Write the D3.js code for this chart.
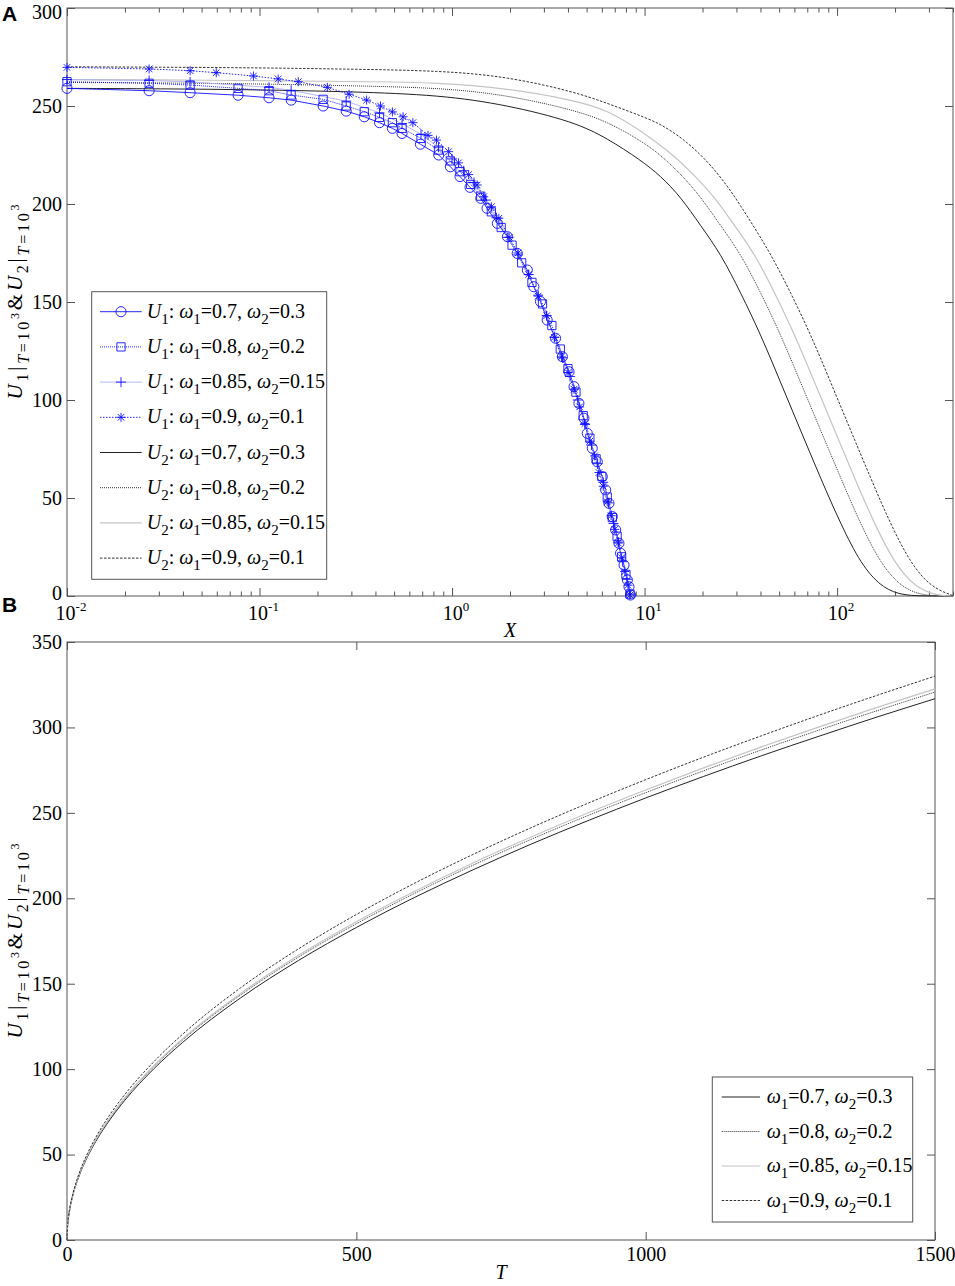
<!DOCTYPE html>
<html><head><meta charset="utf-8">
<script src="https://cdn.jsdelivr.net/npm/d3@7"></script>
<style>
body{margin:0;background:#fff}
svg{display:block}
text{font-family:"Liberation Serif","Times New Roman",serif;fill:#000}
text.panel{font-family:"Liberation Sans",Arial,sans-serif;font-weight:bold}
</style>
</head><body>
<svg id="c" width="955" height="1286"></svg>
<script>
// ---------- DATA ----------
// Panel A: U1 curves  [X, U]
const u1_w07 = [[0.01,259],[0.0267,257.8],[0.0436,256.8],[0.0774,255.5],[0.112,254.2],[0.146,253],[0.214,250],[0.282,247.4],[0.35,244.5],[0.42,241.5],[0.49,238.6],[0.55,236],[0.685,230.5],[0.853,225],[0.98,219],[1.10,214],[1.24,208.5],[1.41,202.9],[1.52,197.8],[1.72,190.1],[1.94,183.3],[2.18,174.8],[2.46,166.3],[2.66,157.8],[2.88,150.2],[3.12,140.8],[3.45,131.5],[3.74,122.1],[4.05,114.4],[4.30,106.8],[4.56,98.3],[4.84,90.7],[5.04,83],[5.35,75.4],[5.68,68.5],[6.03,60.9],[6.28,54.1],[6.53,47.3],[6.80,40.5],[7.08,33.7],[7.36,26.9],[7.50,21.8],[7.82,15.8],[8.14,8.2],[8.30,4.7],[8.45,0.5]];
const u1_w08 = [[0.01,262.4],[0.0267,261.6],[0.0436,260.7],[0.0774,259],[0.112,257.8],[0.146,255.6],[0.214,253.4],[0.282,250],[0.35,247.1],[0.42,244.2],[0.49,241.5],[0.55,238.6],[0.69,233.5],[0.85,227.5],[0.98,222],[1.1,216.5],[1.25,210],[1.41,204],[1.6,196],[1.8,188],[2.05,179],[2.3,170],[2.6,160],[2.95,149],[3.3,138],[3.65,126],[4.0,116],[4.4,104],[4.8,92],[5.2,80.5],[5.6,70],[6.0,61],[6.4,50.5],[6.8,40],[7.2,30.5],[7.6,20],[8.0,11],[8.4,1]];
const u1_w085 = [[0.01,263.5],[0.0267,263],[0.0436,262.3],[0.112,259.5],[0.146,258],[0.282,252.5],[0.42,246.5],[0.55,241],[0.69,235.5],[0.85,229],[1.0,223],[1.15,217],[1.3,211],[1.5,202],[1.7,193],[1.95,183],[2.2,174],[2.5,164],[2.8,153.5],[3.1,143],[3.4,132],[3.75,121.5],[4.1,112],[4.5,100],[4.9,87.5],[5.3,77],[5.7,67.5],[6.1,58],[6.5,47.5],[6.9,37],[7.3,27.5],[7.7,17.5],[8.1,8.5],[8.4,1]];
const u1_w09 = [[0.01,269.7],[0.0267,268.9],[0.0436,268],[0.0596,267],[0.093,265.3],[0.125,263.8],[0.159,262.4],[0.225,259.5],[0.292,256],[0.36,253],[0.425,250],[0.49,247],[0.557,244.5],[0.626,241.5],[0.75,235],[0.83,232.6],[0.96,226.7],[1.08,221],[1.22,215],[1.35,209.7],[1.46,203.7],[1.6,198.6],[1.75,192.7],[1.98,183],[2.2,175],[2.5,164],[2.8,153],[3.1,143],[3.4,132],[3.7,122],[4.0,114],[4.3,105.5],[4.6,96.5],[4.9,88],[5.2,79],[5.5,71.5],[5.8,63],[6.1,56],[6.4,48],[6.7,41],[7.0,34],[7.3,27],[7.6,19.5],[7.9,12.5],[8.2,5.5],[8.4,0.5]];
// Panel A: U2 curves  [X, U]
const u2_w07 = [[0.01,259],[0.03,258.8],[0.1,258.3],[0.3,257.3],[0.87,255.6],[1.935,250.5],[4.29,242],[6.41,233.5],[9.54,222.4],[12.13,214.3],[15.41,203.6],[19.6,188.8],[24.9,174.5],[31.6,154.6],[40.2,133.2],[51,108.7],[64.8,84.2],[82.4,59.7],[105,36.2],[133,16.3],[169,4.6],[214.7,0.5],[272.8,0],[400,0]];
const u2_w08 = [[0.01,262],[0.03,261.8],[0.1,261.3],[0.3,260.3],[0.87,259.3],[1.935,255.6],[4.29,248],[6.41,242],[9.54,232.4],[12.13,225],[15.41,215.3],[19.6,203.6],[24.9,188.8],[31.6,174.5],[40.2,154.6],[51,133.2],[64.8,108.7],[82.4,84.2],[105,59.7],[133,36.2],[169,16.3],[214.7,4.6],[272.8,0.5],[340,0],[400,0]];
const u2_w085 = [[0.01,263.5],[0.03,263.3],[0.1,263],[0.3,262.5],[0.87,262],[1.935,259],[4.29,253],[6.41,248],[9.54,237.5],[14.34,224.5],[18.22,214.3],[23.15,203.6],[29.41,188.8],[37.37,174.5],[47.48,154.6],[60.34,133.2],[76.67,108.7],[97.4,84.2],[123.8,59.7],[157.3,36.2],[199.8,16.3],[253.9,4.6],[322.6,0.5],[380,0],[400,0]];
const u2_w09 = [[0.01,270],[0.03,269.8],[0.1,269.5],[0.3,268.8],[0.87,268],[1.935,265],[4.29,257.3],[6.41,251.4],[9.54,245],[11.66,241.5],[14.2,236.5],[17.37,230],[22.07,220],[28.04,207],[35.6,191],[45.26,174.5],[57.5,154.6],[73.1,133.2],[92.9,108.7],[118,84.2],[150,59.7],[190.5,36.2],[242,16.3],[307.4,4.6],[391,0.5],[400,0.3]];
// Panel B: U vs T
const tValues = [0,1,2,5,10,20,35,50,75,100,150,200,300,400,500,600,700,800,900,1000,1100,1200,1300,1400,1500];
const b_w07  = [0,8.2,11.6,18.3,25.9,36.6,48.4,57.8,70.8,81.8,100.2,115.7,141.7,163.6,182.9,200.4,216.4,231.4,245.4,258.7,271.3,283.4,294.9,306.1,316.8];
const b_w08  = [0,8.3,11.7,18.5,26.2,37.0,49.0,58.5,71.7,82.8,101.4,117.1,143.4,165.6,185.1,202.8,219.1,234.2,248.4,261.8,274.6,286.8,298.5,309.8,320.7];
const b_w085 = [0,8.3,11.8,18.6,26.3,37.3,49.3,58.9,72.1,83.3,102.0,117.8,144.3,166.6,186.3,204.0,220.4,235.6,249.9,263.4,276.3,288.6,300.3,311.7,322.6];
const b_w09  = [0,8.5,12.0,19.1,26.9,38.1,50.4,60.2,73.8,85.2,104.3,120.5,147.6,170.4,190.5,208.7,225.4,241.0,255.6,269.4,282.6,295.1,307.2,318.8,330.0];
// Labels
const omegaPairs = [["0.7","0.3"],["0.8","0.2"],["0.85","0.15"],["0.9","0.1"]];
const xTopMajor = [0.01,0.1,1,10,100];
const xTopExp = ["-2","-1","0","1","2"];
const yTopTicks = [0,50,100,150,200,250,300];
const xBotTicks = [0,500,1000,1500];
const yBotTicks = [0,50,100,150,200,250,300,350];

// ---------- STYLES ----------
const BLUE = "#1010ff";
const u1Styles = [
  {color:BLUE, dash:null, w:0.9, marker:"circle"},
  {color:BLUE, dash:"1,1", w:0.9, marker:"square"},
  {color:"#aab0f0", dash:null, w:0.9, marker:"plus"},
  {color:BLUE, dash:"1.5,1.5", w:0.9, marker:"star"}
];
const u2Styles = [
  {color:"#222", dash:null, w:1},
  {color:"#333", dash:"1,1", w:1},
  {color:"#c4c4c4", dash:null, w:1.2},
  {color:"#333", dash:"2.5,1.5", w:1}
];
const AX = "#555";

const svg = d3.select("#c");

function rich(sel, segs){
  let prev = 0;
  segs.forEach(s=>{
    const d = s.dy||0;
    const t = sel.append("tspan").text(s.t).attr("dy", d-prev).attr("font-size", s.fs||20);
    if(s.it) t.attr("font-style","italic");
    prev = d;
  });
  return sel;
}
function markerPath(type){
  if(type==="circle") return d3.symbol(d3.symbolCircle, 80)();
  if(type==="square") return d3.symbol(d3.symbolSquare, 68)();
  if(type==="plus") return "M-5,0H5M0,-5V5";
  if(type==="star") return "M-4.5,0H4.5M0,-4.5V4.5M-3.3,-3.3L3.3,3.3M-3.3,3.3L3.3,-3.3";
}
function yLabel(cx, cy){
  const t = svg.append("text").attr("transform",`translate(${cx},${cy}) rotate(-90)`).attr("text-anchor","middle")
    .attr("textLength",195).attr("lengthAdjust","spacing");
  rich(t,[{t:"U",it:1,fs:21},{t:"1",fs:16,dy:6},{t:"|",fs:21,dy:0},{t:"T",it:1,fs:16,dy:7},{t:"=10",fs:16,dy:7},{t:"3",fs:12,dy:-3},
          {t:"&",fs:21,dy:0},{t:"U",it:1,fs:21},{t:"2",fs:16,dy:6},{t:"|",fs:21,dy:0},{t:"T",it:1,fs:16,dy:7},{t:"=10",fs:16,dy:7},{t:"3",fs:12,dy:-3}]);
}
function styleAxis(g){
  g.select(".domain").remove();
  g.selectAll(".tick line").attr("stroke",AX);
  g.selectAll(".tick text").attr("font-size",20).attr("fill","#000");
}

// ---------- PANEL A ----------
const A = {l:67, r:953, t:8, b:596};
const x1 = d3.scaleLog().domain([0.01,400]).range([A.l,A.r]);
const y1 = d3.scaleLinear().domain([0,300]).range([A.b,A.t]);
const minorTop = x1.ticks().filter(v=>!xTopMajor.some(m=>Math.abs(m-v)/m<1e-9));

svg.append("g").attr("transform",`translate(0,${A.b})`).call(d3.axisBottom(x1).tickValues(xTopMajor).tickSize(-8).tickFormat("")).call(styleAxis);
svg.append("g").attr("transform",`translate(0,${A.b})`).call(d3.axisBottom(x1).tickValues(minorTop).tickSize(-4.5).tickFormat("")).call(styleAxis);
svg.append("g").attr("transform",`translate(0,${A.t})`).call(d3.axisTop(x1).tickValues(xTopMajor).tickSize(-8).tickFormat("")).call(styleAxis);
svg.append("g").attr("transform",`translate(0,${A.t})`).call(d3.axisTop(x1).tickValues(minorTop).tickSize(-4.5).tickFormat("")).call(styleAxis);
const yAxA = svg.append("g").attr("transform",`translate(${A.l},0)`).call(d3.axisLeft(y1).tickValues(yTopTicks).tickSize(-8).tickPadding(5)).call(styleAxis);
yAxA.selectAll(".tick text").filter(d=>d===300).attr("dy","0.5em");
yAxA.selectAll(".tick text").filter(d=>d===0).attr("dy","0.15em");
svg.append("g").attr("transform",`translate(${A.r},0)`).call(d3.axisRight(y1).tickValues(yTopTicks).tickSize(-8).tickFormat("")).call(styleAxis);
svg.append("rect").attr("x",A.l).attr("y",A.t).attr("width",A.r-A.l).attr("height",A.b-A.t).attr("fill","none").attr("stroke",AX).attr("stroke-width",1);

xTopMajor.forEach((v,i)=>{
  const t = svg.append("text").attr("x",x1(v)+4).attr("y",620).attr("text-anchor","middle");
  rich(t,[{t:"10"},{t:xTopExp[i],fs:13,dy:-9}]);
});
svg.append("text").attr("x",(A.l+A.r)/2).attr("y",637).attr("text-anchor","middle").attr("font-size",20).attr("font-style","italic").text("X");
yLabel(22,(A.t+A.b)/2);
svg.append("text").attr("class","panel").attr("x",2).attr("y",21).attr("font-size",21).text("A");

const lineA = d3.line().x(d=>x1(d[0])).y(d=>y1(d[1]));
const lineAs = d3.line().x(d=>x1(d[0])).y(d=>y1(d[1])).curve(d3.curveBasis);

const u2Data = [u2_w07,u2_w08,u2_w085,u2_w09];
u2Data.forEach((d,i)=>{
  const s = u2Styles[i];
  svg.append("path").attr("d",lineAs(d)).attr("fill","none").attr("stroke",s.color).attr("stroke-width",s.w).attr("stroke-dasharray",s.dash);
});
const u1Data = [u1_w07,u1_w08,u1_w085,u1_w09];
u1Data.forEach((d,i)=>{
  const s = u1Styles[i];
  svg.append("path").attr("d",lineA(d)).attr("fill","none").attr("stroke",s.color).attr("stroke-width",s.w).attr("stroke-dasharray",s.dash);
});
u1Data.forEach((d,i)=>{
  const s = u1Styles[i];
  svg.append("g").selectAll("path").data(d).join("path")
    .attr("transform",p=>`translate(${x1(p[0])},${y1(p[1])})`)
    .attr("d",markerPath(s.marker)).attr("fill","none").attr("stroke",BLUE).attr("stroke-width",0.9);
});

// Legend A
const LA = {x:91.7, y:291.7, w:235, h:287.6};
svg.append("rect").attr("x",LA.x).attr("y",LA.y).attr("width",LA.w).attr("height",LA.h).attr("fill","#fff").attr("stroke",AX);
const legA = [];
omegaPairs.forEach((p,i)=>legA.push({u:"1",p,style:u1Styles[i],marker:u1Styles[i].marker}));
omegaPairs.forEach((p,i)=>legA.push({u:"2",p,style:u2Styles[i],marker:null}));
legA.forEach((e,i)=>{
  const cy = 311.7 + i*35.2;
  svg.append("line").attr("x1",100).attr("x2",141.7).attr("y1",cy).attr("y2",cy)
    .attr("stroke",e.style.color).attr("stroke-width",e.style.w).attr("stroke-dasharray",e.style.dash);
  if(e.marker) svg.append("path").attr("transform",`translate(121,${cy})`).attr("d",markerPath(e.marker)).attr("fill","none").attr("stroke",BLUE).attr("stroke-width",0.9);
  const t = svg.append("text").attr("x",146.7).attr("y",cy+6);
  rich(t,[{t:"U",it:1},{t:e.u,fs:15,dy:6},{t:": "},{t:"\u03C9",it:1},{t:"1",fs:15,dy:6},{t:"="+e.p[0]+", "},{t:"\u03C9",it:1},{t:"2",fs:15,dy:6},{t:"="+e.p[1]}]);
});

// ---------- PANEL B ----------
const B = {l:67, r:935, t:642, b:1240};
const x2 = d3.scaleLinear().domain([0,1500]).range([B.l,B.r]);
const y2 = d3.scaleLinear().domain([0,350]).range([B.b,B.t]);
svg.append("g").attr("transform",`translate(0,${B.b})`).call(d3.axisBottom(x2).tickValues(xBotTicks).tickSize(-8).tickPadding(7).tickFormat(d3.format("d"))).call(styleAxis);
svg.append("g").attr("transform",`translate(0,${B.t})`).call(d3.axisTop(x2).tickValues(xBotTicks).tickSize(-8).tickFormat("")).call(styleAxis);
svg.append("g").attr("transform",`translate(${B.l},0)`).call(d3.axisLeft(y2).tickValues(yBotTicks).tickSize(-8).tickPadding(5)).call(styleAxis);
svg.append("g").attr("transform",`translate(${B.r},0)`).call(d3.axisRight(y2).tickValues(yBotTicks).tickSize(-8).tickFormat("")).call(styleAxis);
svg.append("rect").attr("x",B.l).attr("y",B.t).attr("width",B.r-B.l).attr("height",B.b-B.t).attr("fill","none").attr("stroke",AX);
svg.append("text").attr("x",(B.l+B.r)/2).attr("y",1279).attr("text-anchor","middle").attr("font-size",20).attr("font-style","italic").text("T");
yLabel(22,(B.t+B.b)/2);
svg.append("text").attr("class","panel").attr("x",2).attr("y",612).attr("font-size",21).text("B");

const lineB = d3.line().x((d,i)=>x2(tValues[i])).y(d=>y2(d)).curve(d3.curveMonotoneX);
[b_w07,b_w08,b_w085,b_w09].forEach((d,i)=>{
  const s = u2Styles[i];
  svg.append("path").attr("d",lineB(d)).attr("fill","none").attr("stroke",s.color).attr("stroke-width",s.w).attr("stroke-dasharray",s.dash);
});
// Legend B
svg.append("rect").attr("x",712.3).attr("y",1077).attr("width",200.4).attr("height",145).attr("fill","#fff").attr("stroke",AX);
omegaPairs.forEach((p,i)=>{
  const cy = 1097 + i*34.5;
  const s = u2Styles[i];
  svg.append("line").attr("x1",721.7).attr("x2",760).attr("y1",cy).attr("y2",cy).attr("stroke",s.color).attr("stroke-width",s.w).attr("stroke-dasharray",s.dash);
  const t = svg.append("text").attr("x",766.7).attr("y",cy+6);
  rich(t,[{t:"\u03C9",it:1},{t:"1",fs:15,dy:6},{t:"="+p[0]+", "},{t:"\u03C9",it:1},{t:"2",fs:15,dy:6},{t:"="+p[1]}]);
});
</script>
</body></html>
